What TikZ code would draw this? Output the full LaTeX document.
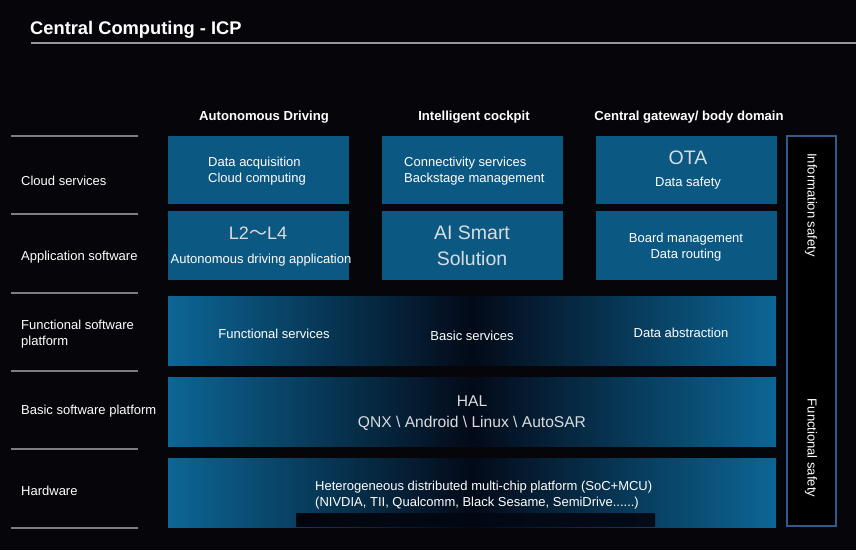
\documentclass[tikz,border=0pt]{standalone}
\usepackage{fontspec}
\setmainfont{Liberation Sans}
\newfontfamily\cjkfont{Noto Sans CJK SC}
\definecolor{bg}{RGB}{6,5,10}
\definecolor{boxblue}{RGB}{11,88,130}
\definecolor{rowblue}{RGB}{12,102,150}
\definecolor{rowdark}{RGB}{3,10,24}
\definecolor{sepgray}{RGB}{125,125,130}
\definecolor{frameblue}{RGB}{50,90,140}
\definecolor{biggray}{RGB}{218,220,224}
\begin{document}
\begin{tikzpicture}[x=1pt,y=-1pt,
  txt/.style={text=white,font=\fontsize{13}{16}\selectfont,inner sep=0pt},
  head/.style={text=white,font=\fontsize{13.1}{15}\selectfont\bfseries,inner sep=0pt},
  big/.style={text=biggray,font=\fontsize{19.5}{26}\selectfont,inner sep=0pt},
  mid/.style={text=biggray,font=\fontsize{15.6}{22}\selectfont,inner sep=0pt},
  cell/.style={fill=boxblue,draw=none},
  wide/.style={left color=rowblue,right color=rowblue,middle color=rowdark,draw=none},
  sep/.style={draw=sepgray,line width=1.6pt},
  sidebox/.style={fill=black,draw=frameblue,line width=1.4pt}]
\fill[bg] (0,0) rectangle (856,550);
\useasboundingbox (0,0) rectangle (856,550);
% title
\node[txt,anchor=base west,font=\fontsize{18.3}{20}\selectfont\bfseries] (title) at (30,34) {Central Computing - ICP};
\coordinate (tl) at (31,43);
\coordinate (tr) at (856,43);
\draw[draw=sepgray!80,line width=1.2pt] (tl) -- (tr);
% left separators
\foreach \y [count=\i] in {136,214,293,371,449,528}{
  \coordinate (sl\i) at (11,\y);
  \coordinate (sr\i) at (138,\y);
  \draw[sep] (sl\i) -- (sr\i);
}
% left labels
\node[txt,anchor=west] (lcloud) at (21,181) {Cloud services};
\node[txt,anchor=west] (lapp) at (21,257) {Application software};
\node[txt,anchor=west,align=left] (lfunc) at (21,334) {Functional software\\platform};
\node[txt,anchor=west] (lbasic) at (21,411) {Basic software platform};
\node[txt,anchor=west] (lhw) at (21,491) {Hardware};
% column headers
\node[head] (h1) at (264,117) {Autonomous Driving};
\node[head] (h2) at (474,117) {Intelligent cockpit};
\node[head] (h3) at (689,117) {Central gateway/ body domain};
% cells row 1
\fill[cell] (168,136) rectangle (349,204);
\fill[cell] (382,136) rectangle (563,204);
\fill[cell] (596,136) rectangle (777,204);
% cells row 2
\fill[cell] (168,211) rectangle (349,280);
\fill[cell] (382,211) rectangle (563,280);
\fill[cell] (596,211) rectangle (777,280);
% wide rows
\shade[wide] (168,296) rectangle (776,365);
\shade[wide] (168,377) rectangle (776,446);
\shade[wide] (168,458) rectangle (776,527);
\shade[left color=rowdark!60!black,right color=rowdark,draw=none] (296,513) rectangle (655,526);
% side boxes
\draw[sidebox] (787,136) rectangle (836,526);
% texts row 1
\node[txt,anchor=west,align=left] (t11) at (208,171) {Data acquisition\\Cloud computing};
\node[txt,anchor=west,align=left] (t12) at (404,171) {Connectivity services\\Backstage management};
\node[big] (t13a) at (688,158) {OTA};
\node[txt] (t13b) at (688,183) {Data safety};
% texts row 2
\node[mid,font=\fontsize{18}{22}\selectfont] (t21a) at (258,233) {L2{\cjkfont ～}L4};
\node[txt] (t21b) at (261,260) {Autonomous driving application};
\node[big,align=center] (t22) at (472,246) {AI Smart\\Solution};
\node[txt,align=center] (t23) at (686,247) {Board management\\Data routing};
% row 3
\node[txt] (t31) at (274,334) {Functional services};
\node[txt] (t32) at (472,336) {Basic services};
\node[txt] (t33) at (681,333) {Data abstraction};
% row 4
\node[mid] (t41) at (472,401) {HAL};
\node[mid] (t42) at (472,423) {QNX \textbackslash{} Android \textbackslash{} Linux \textbackslash{} AutoSAR};
% row 5
\node[txt,anchor=west,align=left] (t51) at (315,495) {Heterogeneous distributed multi-chip platform (SoC+MCU)\\(NIVDIA, TII, Qualcomm, Black Sesame, SemiDrive......)};
% vertical labels
\node[txt,rotate=-90] (vinfo) at (811,205) {Information safety};
\node[txt,rotate=-90] (vfunc) at (811,448) {Functional safety};
\end{tikzpicture}
\end{document}
